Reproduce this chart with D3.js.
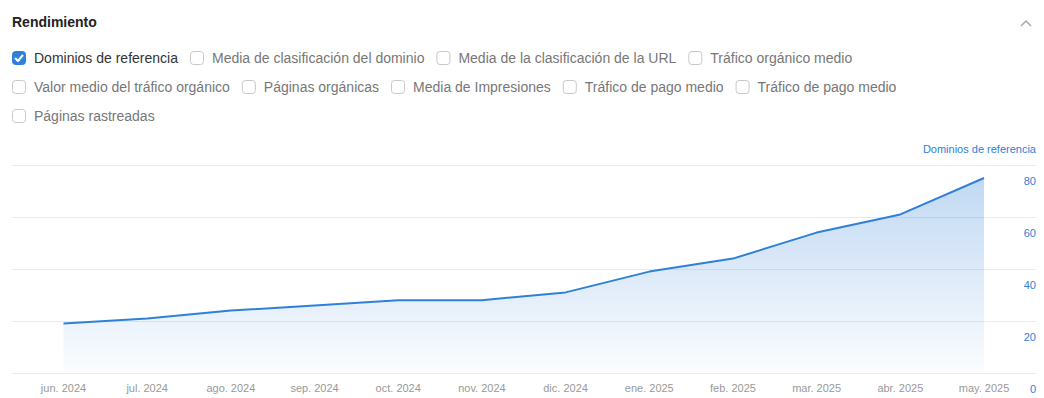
<!DOCTYPE html>
<html><head><meta charset="utf-8">
<script src="https://cdn.jsdelivr.net/npm/d3@7"></script>
<style>
html,body{margin:0;padding:0;background:#fff;}
svg{display:block;font-family:"Liberation Sans",Arial,sans-serif;}
</style></head>
<body><svg id="c" width="1044" height="398"></svg>
<script>
const months = ["jun. 2024","jul. 2024","ago. 2024","sep. 2024","oct. 2024","nov. 2024","dic. 2024","ene. 2025","feb. 2025","mar. 2025","abr. 2025","may. 2025"];
const referringDomains = [19,21,24,26,28,28,31,39,44,54,61,75];
const yTicks = [0,20,40,60,80];
const legendRows = [
  ["Dominios de referencia","Media de clasificación del dominio","Media de la clasificación de la URL","Tráfico orgánico medio"],
  ["Valor medio del tráfico orgánico","Páginas orgánicas","Media de Impresiones","Tráfico de pago medio","Tráfico de pago medio"],
  ["Páginas rastreadas"]
];
const checked = ["Dominios de referencia"];
const title = "Rendimiento";
const seriesName = "Dominios de referencia";

const svg = d3.select("#c");
const blue = "#2f80d8";

// Title
svg.append("text").attr("x",12).attr("y",27).attr("font-size",14).attr("font-weight","bold").attr("fill","#222").text(title);
// chevron
svg.append("path").attr("d","M1021,26 L1026,21 L1031,26").attr("fill","none").attr("stroke","#aaa").attr("stroke-width",1.5);

// Legend
legendRows.forEach((row,ri)=>{
  const cy = 58 + ri*29;
  let x = 12;
  row.forEach(label=>{
    const on = checked.includes(label) && ri===0 && x===12;
    const g = svg.append("g");
    g.append("rect").attr("x",x+0.5).attr("y",cy-6.5).attr("width",13).attr("height",13).attr("rx",3)
      .attr("fill",on?blue:"#fff").attr("stroke",on?blue:"#c8c8c8");
    if(on){
      g.append("path").attr("d",`M${x+3.5},${cy+0.5} L${x+6},${cy+3} L${x+10.5},${cy-2.5}`)
        .attr("fill","none").attr("stroke","#fff").attr("stroke-width",2).attr("stroke-linecap","round").attr("stroke-linejoin","round");
    }
    const t = g.append("text").attr("x",x+22).attr("y",cy+5).attr("font-size",14)
      .attr("fill",on?"#333":"#777").text(label);
    const w = t.node().getComputedTextLength();
    x = x + 22 + w + 12;
  });
});

// Chart
const x = d3.scalePoint().domain(months).range([63.5,984]);
const y = d3.scaleLinear().domain([0,80]).range([373,165]);

// gridlines
svg.append("g").selectAll("line").data(yTicks).join("line")
  .attr("x1",12).attr("x2",1036).attr("y1",d=>Math.round(y(d))+0.5).attr("y2",d=>Math.round(y(d))+0.5)
  .attr("stroke","#ebebeb").attr("stroke-width",1);

// gradient
const defs = svg.append("defs");
const grad = defs.append("linearGradient").attr("id","ag").attr("gradientUnits","userSpaceOnUse")
  .attr("x1",0).attr("y1",y(75)).attr("x2",0).attr("y2",y(0));
grad.append("stop").attr("offset",0).attr("stop-color",blue).attr("stop-opacity",0.3);
grad.append("stop").attr("offset",1).attr("stop-color",blue).attr("stop-opacity",0.02);

const data = months.map((m,i)=>({m,v:referringDomains[i]}));
svg.append("path").datum(data)
  .attr("d",d3.area().x(d=>x(d.m)).y0(y(0)).y1(d=>y(d.v)))
  .attr("fill","url(#ag)");
svg.append("path").datum(data)
  .attr("d",d3.line().x(d=>x(d.m)).y(d=>y(d.v)))
  .attr("fill","none").attr("stroke",blue).attr("stroke-width",2).attr("stroke-linejoin","round");

// x labels
svg.append("g").selectAll("text").data(months).join("text")
  .attr("x",d=>x(d)).attr("y",392).attr("text-anchor","middle").attr("font-size",11).attr("fill","#999").text(d=>d);

// y labels (right, drawn below gridlines)
svg.append("g").selectAll("text").data(yTicks).join("text")
  .attr("x",1036).attr("y",d=>y(d)+20).attr("text-anchor","end").attr("font-size",11).attr("fill",blue).text(d=>d);

// axis title
svg.append("text").attr("x",1036).attr("y",153).attr("text-anchor","end").attr("font-size",11).attr("fill",blue).text(seriesName);
</script></body></html>
